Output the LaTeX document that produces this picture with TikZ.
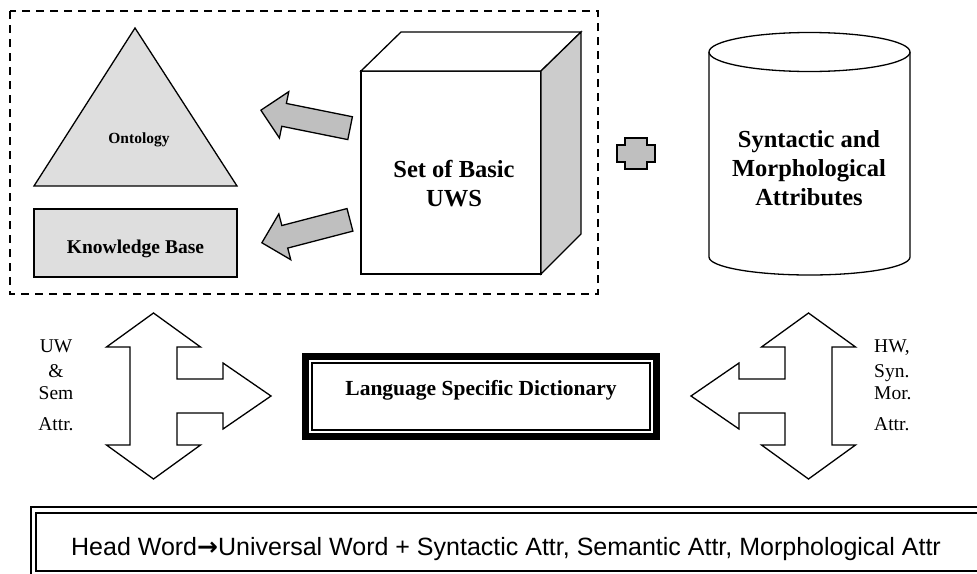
\documentclass[tikz,border=0pt]{standalone}
\usepackage{fontspec}
\setmainfont{Liberation Serif}
\newfontfamily\headfont{Liberation Sans}
\newfontfamily\symfont{DejaVu Sans}
\usetikzlibrary{shapes.arrows,positioning}
\tikzset{
  outline/.style={draw,line width=1.3pt},
  lightfill/.style={outline,fill=black!13},
  blockarrow/.style={single arrow,draw,line width=1.3pt,fill=black!25,
    minimum height=91pt,inner xsep=0pt,inner ysep=11pt,
    single arrow head extend=12pt,single arrow head indent=0pt},
  boxtext/.style={font=\bfseries,align=center,inner sep=0pt},
  sidetext/.style={align=center,inner sep=0pt,font=\fontsize{19.5}{24}\selectfont}
}
\newcommand{\teeshape}{%
  (0,-83) -- (47,-49) -- (23.5,-49) -- (23.5,-17) -- (69.5,-17) -- (69.5,-33)
  -- (117.5,0) -- (69.5,33) -- (69.5,17) -- (23.5,17) -- (23.5,49) -- (47,49)
  -- (0,83) -- (-47,49) -- (-23.5,49) -- (-23.5,-49) -- (-47,-49) -- cycle}

\begin{document}
\begin{tikzpicture}[x=1pt,y=-1pt]
  \useasboundingbox (0,0) rectangle (977,573);
  \clip (0,0) rectangle (977,573);
  \draw[line width=1.3pt,dash pattern=on 8pt off 6pt] (10,11) rectangle (598,294);
  \draw[lightfill] (34,186) -- (135,28) -- (237,186) -- cycle;
  \node[boxtext,font=\bfseries\fontsize{15.5}{18}\selectfont,anchor=base] (onto) at (139,143) {Ontology};
  \draw[lightfill] (34,209) rectangle (237,277);
  \node[boxtext,font=\bfseries\fontsize{19.5}{23}\selectfont,anchor=base] (kb) at (135.5,253) {Knowledge Base};
  \draw[outline,fill=white] (361,71) rectangle (541,274);
  \draw[outline,fill=white] (361,71) -- (401,32) -- (581,32) -- (541,71) -- cycle;
  \draw[outline,fill=black!20] (541,71) -- (581,32) -- (581,234) -- (541,274) -- cycle;
  \node[boxtext,font=\bfseries\fontsize{24.5}{29}\selectfont] (uws) at (454,184) {Set of Basic\\UWS};
  \node[blockarrow,rotate=168.6,anchor=tip] (toonto) at (260,110) {};
  \node[blockarrow,rotate=194.6,anchor=tip] (tokb) at (261,243) {};
  \draw[line width=2.5pt,fill=black!25] (625,138) -- (647,138) -- (647,145) -- (655,145)
    -- (655,162) -- (647,162) -- (647,169) -- (625,169) -- (625,162) -- (617,162)
    -- (617,145) -- (625,145) -- cycle;
  \draw[outline,fill=white] (709,52) -- (709,257) arc[start angle=180,end angle=0,x radius=100.5,y radius=18] -- (910,52);
  \draw[outline] (809.5,52) ellipse[x radius=100.5,y radius=19.5];
  \node[boxtext,font=\bfseries\fontsize{24.5}{29}\selectfont] (attrs) at (809,168.5) {Syntactic and\\Morphological\\Attributes};
  \draw[line width=7pt] (305.5,356.5) rectangle (656.5,436.5);
  \draw[line width=1.5pt] (312,363) rectangle (650,430);
  \node[boxtext,font=\bfseries\fontsize{21.5}{25}\selectfont,anchor=base] (dict) at (481,395) {Language Specific Dictionary};
  \draw[outline,fill=white,shift={(153.5,396)}] \teeshape;
  \draw[outline,fill=white,shift={(808.5,396)},xscale=-1] \teeshape;
  \node[sidetext] (uwlabel) at (56,385.5) {UW\\[1pt]\&\\[-2pt]Sem\\[7pt]Attr.};
  \node[sidetext,align=left,anchor=west] (hwlabel) at (874,385.5) {HW,\\[1pt]Syn.\\[-2pt]Mor.\\[7pt]Attr.};
  \draw[outline] (31,507) rectangle (990,590);
  \draw[outline] (36,513) rectangle (985,571);
  \node[inner sep=0pt,font=\headfont\fontsize{25}{30}\selectfont,anchor=base] (rule) at (506,555) {Head Word{\symfont\bfseries →}Universal Word + Syntactic Attr, Semantic Attr, Morphological Attr};
\end{tikzpicture}
\end{document}
